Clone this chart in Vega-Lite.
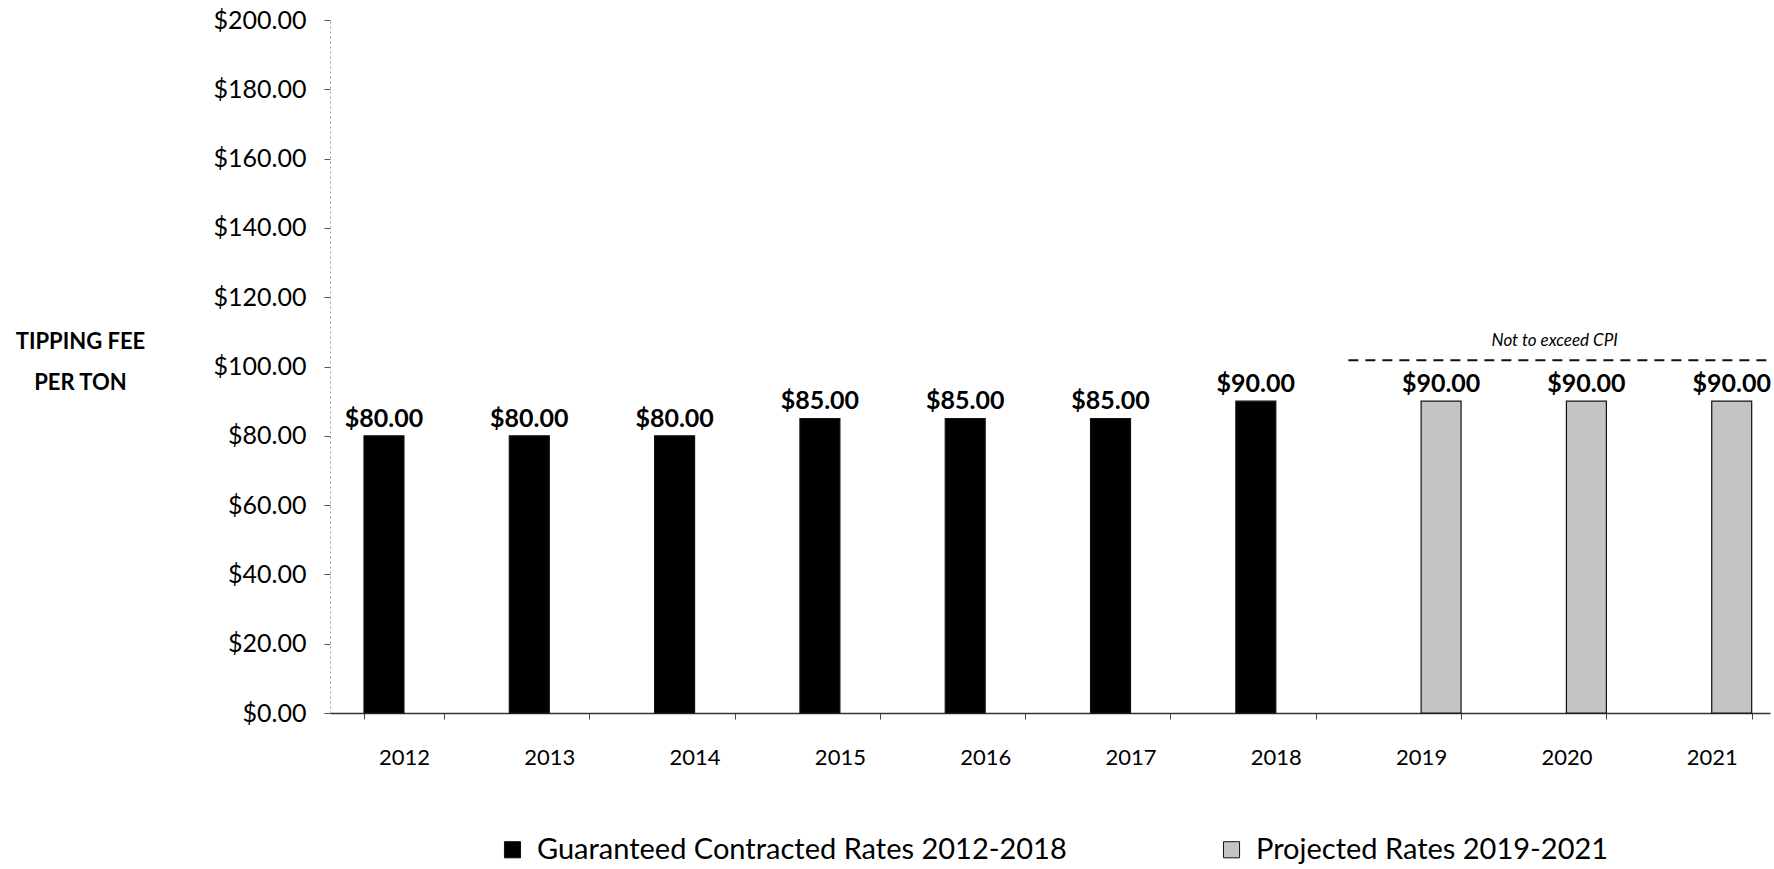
{
  "$schema": "https://vega.github.io/schema/vega-lite/v6.json",
  "autosize": "none",
  "width": 1440,
  "height": 693,
  "padding": {"left": 330, "top": 20, "right": 4, "bottom": 156},
  "background": "white",
  "config": {
    "font": "Lato",
    "view": {"stroke": null}
  },
  "datasets": {
    "rates": [
      {"year": "2012", "series": "Guaranteed Contracted Rates 2012-2018", "value": 80},
      {"year": "2013", "series": "Guaranteed Contracted Rates 2012-2018", "value": 80},
      {"year": "2014", "series": "Guaranteed Contracted Rates 2012-2018", "value": 80},
      {"year": "2015", "series": "Guaranteed Contracted Rates 2012-2018", "value": 85},
      {"year": "2016", "series": "Guaranteed Contracted Rates 2012-2018", "value": 85},
      {"year": "2017", "series": "Guaranteed Contracted Rates 2012-2018", "value": 85},
      {"year": "2018", "series": "Guaranteed Contracted Rates 2012-2018", "value": 90},
      {"year": "2019", "series": "Projected Rates 2019-2021", "value": 90},
      {"year": "2020", "series": "Projected Rates 2019-2021", "value": 90},
      {"year": "2021", "series": "Projected Rates 2019-2021", "value": 90}
    ],
    "cpi": [
      {"start": 2018.5, "end": 2021.402, "level": 101.8, "labelX": 2019.92, "label": "Not to exceed CPI"}
    ]
  },
  "layer": [
    {
      "data": {"name": "rates"},
      "encoding": {
        "x": {
          "field": "year", "type": "ordinal",
          "scale": {"paddingInner": 0.45, "paddingOuter": 0.18, "align": 0.65},
          "axis": {
            "title": null, "labelAngle": 0, "labelFontSize": 22, "labelColor": "#000",
            "domainColor": "#333", "domainWidth": 1.5,
            "ticks": true, "tickBand": "extent", "tickSize": 6, "tickColor": "#444",
            "labelPadding": 28
          }
        },
        "xOffset": {
          "field": "series", "type": "nominal",
          "scale": {"domain": ["Guaranteed Contracted Rates 2012-2018", "Projected Rates 2019-2021"], "paddingInner": 0, "paddingOuter": 0}
        },
        "y": {
          "field": "value", "type": "quantitative",
          "scale": {"domain": [0, 200], "nice": false},
          "axis": {
            "values": [0, 20, 40, 60, 80, 100, 120, 140, 160, 180, 200],
            "format": "$,.2f", "grid": false,
            "labelFontSize": 25, "labelColor": "#000", "labelPadding": 18,
            "domainColor": "#999", "domainDash": [2, 3], "domainWidth": 1,
            "tickColor": "#555", "tickSize": 6,
            "title": ["TIPPING FEE", "PER TON"],
            "titleAngle": 0, "titleAlign": "center", "titleBaseline": "top",
            "titleX": -250, "titleY": 311, "titleFontSize": 22, "titleFontWeight": "bold",
            "titleLineHeight": 41, "titleColor": "#000"
          }
        }
      },
      "layer": [
        {
          "mark": {"type": "bar", "stroke": "#111111", "strokeWidth": 1.2},
          "encoding": {
            "color": {
              "field": "series", "type": "nominal",
              "scale": {"domain": ["Guaranteed Contracted Rates 2012-2018", "Projected Rates 2019-2021"], "range": ["#000000", "#c4c4c4"]},
              "legend": {
                "title": null, "orient": "none", "direction": "horizontal",
                "legendX": 168, "legendY": 815,
                "symbolType": "square", "symbolSize": 260, "symbolStrokeColor": "#111", "symbolStrokeWidth": 1,
                "labelFontSize": 29, "labelColor": "#000", "labelLimit": 800,
                "columnPadding": 150, "labelOffset": 10
              }
            }
          }
        },
        {
          "mark": {"type": "text", "baseline": "bottom", "dy": -4, "fontSize": 25, "fontWeight": "bold", "color": "#000"},
          "encoding": {
            "text": {"field": "value", "type": "quantitative", "format": "$,.2f"}
          }
        }
      ]
    },
    {
      "data": {"name": "cpi"},
      "layer": [
        {
          "mark": {"type": "rule", "strokeDash": [10, 7], "strokeWidth": 2, "color": "#111"},
          "encoding": {
            "x": {"field": "start", "type": "quantitative", "scale": {"domain": [2011.491, 2021.402], "nice": false, "zero": false}, "axis": null},
            "x2": {"field": "end"},
            "y": {"field": "level", "type": "quantitative"}
          }
        },
        {
          "mark": {"type": "text", "fontStyle": "italic", "fontSize": 17, "baseline": "middle", "dy": -19, "color": "#000"},
          "encoding": {
            "x": {"field": "labelX", "type": "quantitative", "scale": {"domain": [2011.491, 2021.402], "nice": false, "zero": false}, "axis": null},
            "y": {"field": "level", "type": "quantitative"},
            "text": {"field": "label"}
          }
        }
      ]
    }
  ],
  "resolve": {"scale": {"x": "independent"}}
}
